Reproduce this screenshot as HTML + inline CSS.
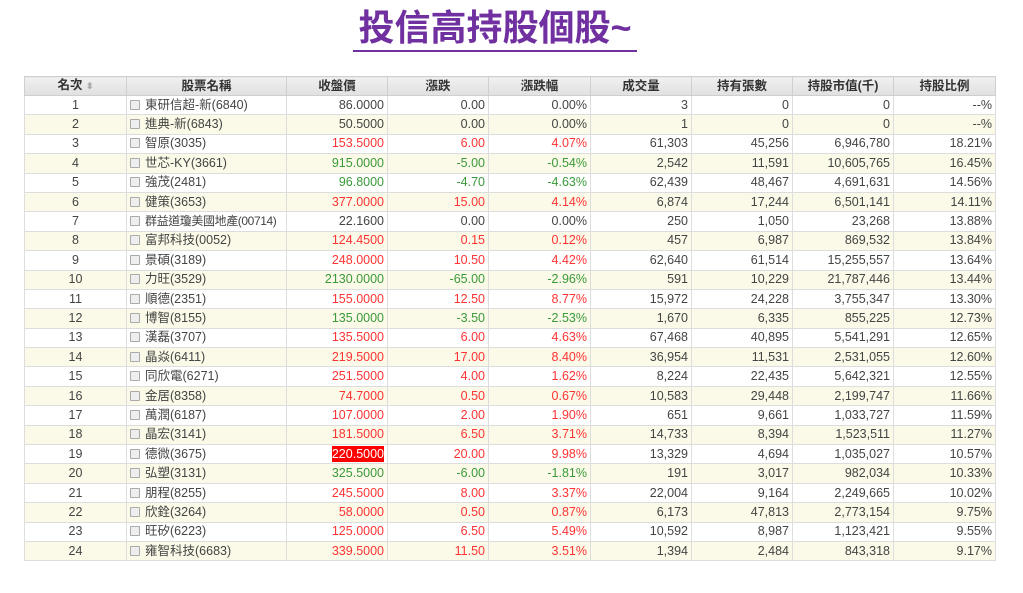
<!DOCTYPE html>
<html><head><meta charset="utf-8"><style>
body{margin:0;width:1023px;height:593px;background:#fff;font-family:"Liberation Sans","Noto Sans CJK TC",sans-serif;overflow:hidden;position:relative}
.title{position:absolute;left:353px;top:7px;width:284px;text-align:center;font-size:36px;color:#7030a0;font-weight:bold;line-height:42px;white-space:nowrap}
.ul{position:absolute;left:353px;top:50px;width:284px;height:2px;background:#7030a0}
table{position:absolute;left:24px;top:76px;width:971px;border-collapse:collapse;table-layout:fixed;font-size:12.5px;color:#444}
th{height:19px;box-sizing:border-box;line-height:17px;background:linear-gradient(#f0f0f0,#e0e0e0);border:1px solid #cfcfcf;font-weight:bold;color:#333;font-size:12.5px;padding:0}
tbody tr{height:19.4px}
td{box-sizing:border-box;height:19.4px;line-height:17px;border:1px solid #ddd;padding:0 3px;text-align:right;white-space:nowrap;overflow:hidden}
td:first-child{text-align:center}
td:nth-child(2){text-align:left;padding-left:3px}
tr:nth-child(even) td{background:#fbf9e7}
.r{color:#f33}.g{color:#3a9a3a}
.cb{display:inline-block;width:8px;height:8px;border:1px solid #aaa;background:#eee;margin-right:5px;vertical-align:-1px;border-radius:1px}
.hl{background:#f00;color:#fff;padding:1px 0}
.tight{font-size:12px;letter-spacing:-0.4px}
</style></head><body>
<div class="title">投信高持股個股~</div><div class="ul"></div>
<table>
<colgroup><col style="width:102px"><col style="width:160px"><col style="width:101px"><col style="width:101px"><col style="width:102px"><col style="width:101px"><col style="width:101px"><col style="width:101px"><col style="width:102px"></colgroup>
<thead><tr><th>名次 <span style="color:#aaa;font-size:9px">⬍</span></th><th>股票名稱</th><th>收盤價</th><th>漲跌</th><th>漲跌幅</th><th>成交量</th><th>持有張數</th><th>持股市值(千)</th><th>持股比例</th></tr></thead>
<tbody>
<tr><td>1</td><td><span class="cb"></span>東研信超-新(6840)</td><td>86.0000</td><td>0.00</td><td>0.00%</td><td>3</td><td>0</td><td>0</td><td>--%</td></tr>
<tr><td>2</td><td><span class="cb"></span>進典-新(6843)</td><td>50.5000</td><td>0.00</td><td>0.00%</td><td>1</td><td>0</td><td>0</td><td>--%</td></tr>
<tr><td>3</td><td><span class="cb"></span>智原(3035)</td><td class="r">153.5000</td><td class="r">6.00</td><td class="r">4.07%</td><td>61,303</td><td>45,256</td><td>6,946,780</td><td>18.21%</td></tr>
<tr><td>4</td><td><span class="cb"></span>世芯-KY(3661)</td><td class="g">915.0000</td><td class="g">-5.00</td><td class="g">-0.54%</td><td>2,542</td><td>11,591</td><td>10,605,765</td><td>16.45%</td></tr>
<tr><td>5</td><td><span class="cb"></span>強茂(2481)</td><td class="g">96.8000</td><td class="g">-4.70</td><td class="g">-4.63%</td><td>62,439</td><td>48,467</td><td>4,691,631</td><td>14.56%</td></tr>
<tr><td>6</td><td><span class="cb"></span>健策(3653)</td><td class="r">377.0000</td><td class="r">15.00</td><td class="r">4.14%</td><td>6,874</td><td>17,244</td><td>6,501,141</td><td>14.11%</td></tr>
<tr><td>7</td><td class="tight"><span class="cb"></span>群益道瓊美國地產(00714)</td><td>22.1600</td><td>0.00</td><td>0.00%</td><td>250</td><td>1,050</td><td>23,268</td><td>13.88%</td></tr>
<tr><td>8</td><td><span class="cb"></span>富邦科技(0052)</td><td class="r">124.4500</td><td class="r">0.15</td><td class="r">0.12%</td><td>457</td><td>6,987</td><td>869,532</td><td>13.84%</td></tr>
<tr><td>9</td><td><span class="cb"></span>景碩(3189)</td><td class="r">248.0000</td><td class="r">10.50</td><td class="r">4.42%</td><td>62,640</td><td>61,514</td><td>15,255,557</td><td>13.64%</td></tr>
<tr><td>10</td><td><span class="cb"></span>力旺(3529)</td><td class="g">2130.0000</td><td class="g">-65.00</td><td class="g">-2.96%</td><td>591</td><td>10,229</td><td>21,787,446</td><td>13.44%</td></tr>
<tr><td>11</td><td><span class="cb"></span>順德(2351)</td><td class="r">155.0000</td><td class="r">12.50</td><td class="r">8.77%</td><td>15,972</td><td>24,228</td><td>3,755,347</td><td>13.30%</td></tr>
<tr><td>12</td><td><span class="cb"></span>博智(8155)</td><td class="g">135.0000</td><td class="g">-3.50</td><td class="g">-2.53%</td><td>1,670</td><td>6,335</td><td>855,225</td><td>12.73%</td></tr>
<tr><td>13</td><td><span class="cb"></span>漢磊(3707)</td><td class="r">135.5000</td><td class="r">6.00</td><td class="r">4.63%</td><td>67,468</td><td>40,895</td><td>5,541,291</td><td>12.65%</td></tr>
<tr><td>14</td><td><span class="cb"></span>晶焱(6411)</td><td class="r">219.5000</td><td class="r">17.00</td><td class="r">8.40%</td><td>36,954</td><td>11,531</td><td>2,531,055</td><td>12.60%</td></tr>
<tr><td>15</td><td><span class="cb"></span>同欣電(6271)</td><td class="r">251.5000</td><td class="r">4.00</td><td class="r">1.62%</td><td>8,224</td><td>22,435</td><td>5,642,321</td><td>12.55%</td></tr>
<tr><td>16</td><td><span class="cb"></span>金居(8358)</td><td class="r">74.7000</td><td class="r">0.50</td><td class="r">0.67%</td><td>10,583</td><td>29,448</td><td>2,199,747</td><td>11.66%</td></tr>
<tr><td>17</td><td><span class="cb"></span>萬潤(6187)</td><td class="r">107.0000</td><td class="r">2.00</td><td class="r">1.90%</td><td>651</td><td>9,661</td><td>1,033,727</td><td>11.59%</td></tr>
<tr><td>18</td><td><span class="cb"></span>晶宏(3141)</td><td class="r">181.5000</td><td class="r">6.50</td><td class="r">3.71%</td><td>14,733</td><td>8,394</td><td>1,523,511</td><td>11.27%</td></tr>
<tr><td>19</td><td><span class="cb"></span>德微(3675)</td><td><span class="hl">220.5000</span></td><td class="r">20.00</td><td class="r">9.98%</td><td>13,329</td><td>4,694</td><td>1,035,027</td><td>10.57%</td></tr>
<tr><td>20</td><td><span class="cb"></span>弘塑(3131)</td><td class="g">325.5000</td><td class="g">-6.00</td><td class="g">-1.81%</td><td>191</td><td>3,017</td><td>982,034</td><td>10.33%</td></tr>
<tr><td>21</td><td><span class="cb"></span>朋程(8255)</td><td class="r">245.5000</td><td class="r">8.00</td><td class="r">3.37%</td><td>22,004</td><td>9,164</td><td>2,249,665</td><td>10.02%</td></tr>
<tr><td>22</td><td><span class="cb"></span>欣銓(3264)</td><td class="r">58.0000</td><td class="r">0.50</td><td class="r">0.87%</td><td>6,173</td><td>47,813</td><td>2,773,154</td><td>9.75%</td></tr>
<tr><td>23</td><td><span class="cb"></span>旺矽(6223)</td><td class="r">125.0000</td><td class="r">6.50</td><td class="r">5.49%</td><td>10,592</td><td>8,987</td><td>1,123,421</td><td>9.55%</td></tr>
<tr><td>24</td><td><span class="cb"></span>雍智科技(6683)</td><td class="r">339.5000</td><td class="r">11.50</td><td class="r">3.51%</td><td>1,394</td><td>2,484</td><td>843,318</td><td>9.17%</td></tr>
</tbody></table>
</body></html>
